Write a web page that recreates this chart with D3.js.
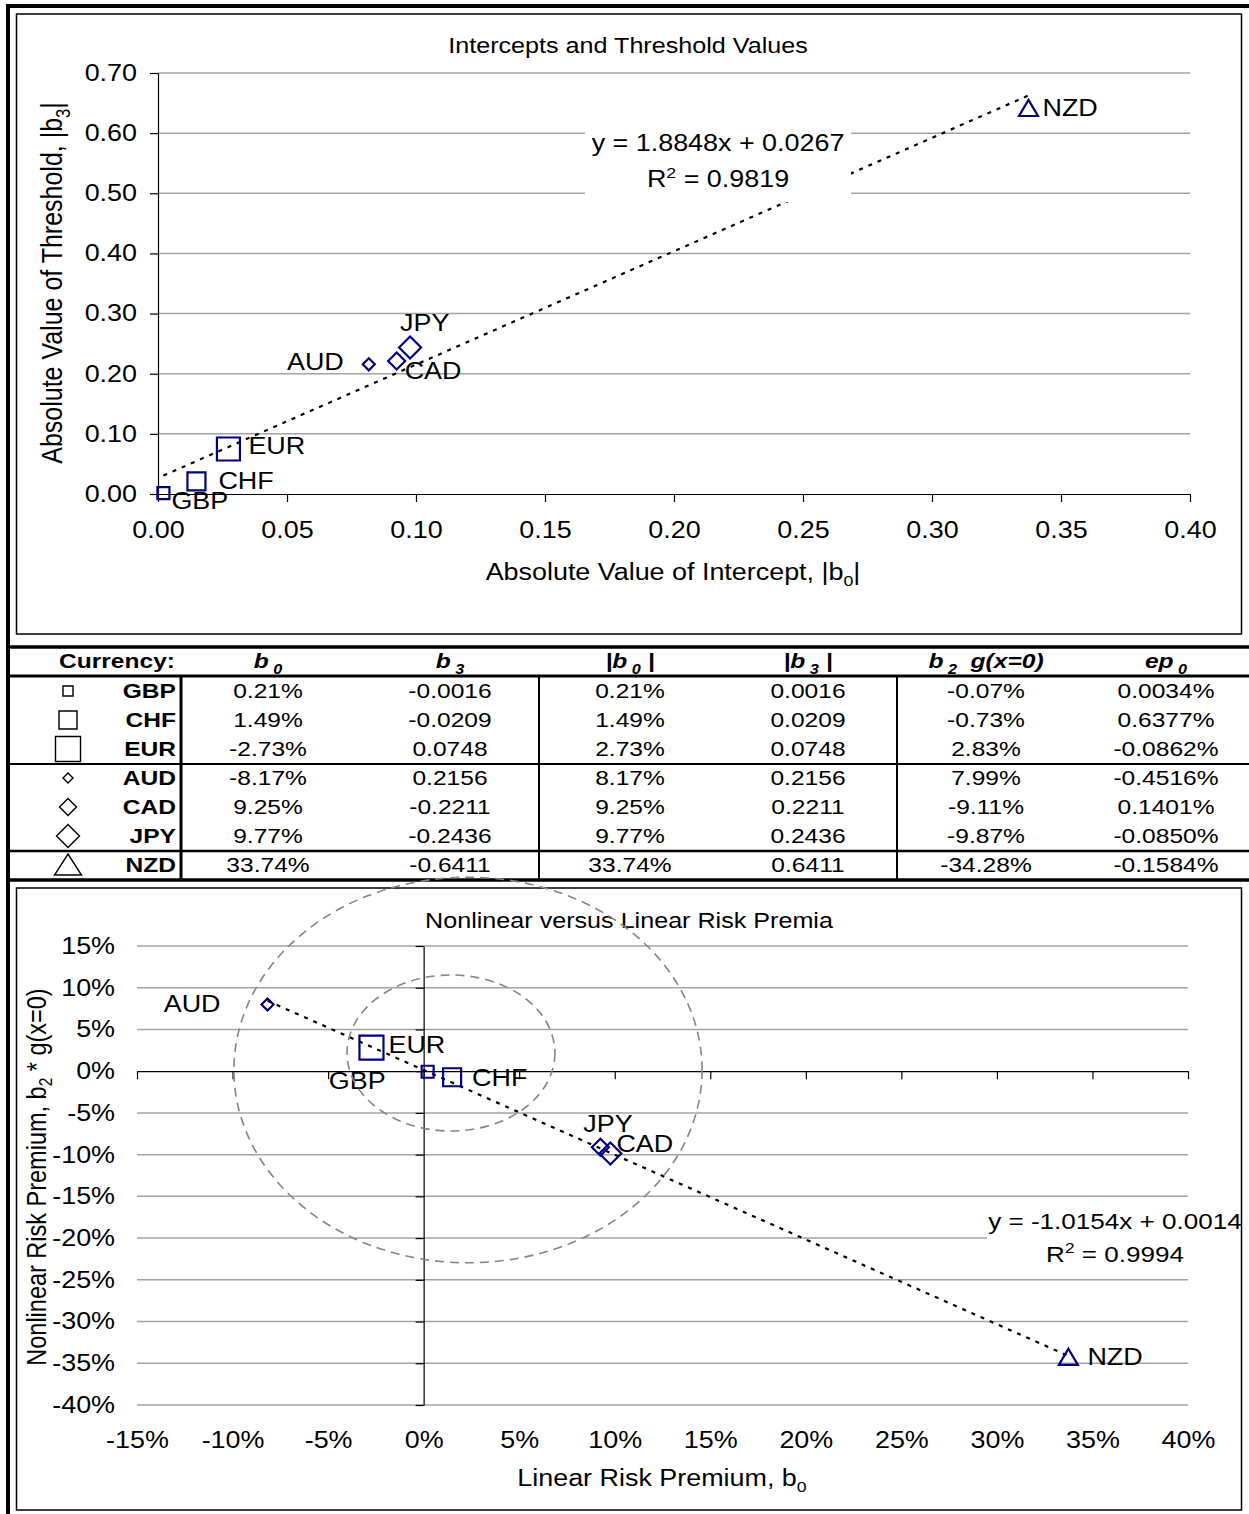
<!DOCTYPE html>
<html>
<head>
<meta charset="utf-8">
<script src="https://cdn.jsdelivr.net/npm/d3@7"></script>
<style>
  body { margin: 0; background: #fff; }
  svg { display: block; font-family: "Liberation Sans", Arial, sans-serif; }
  text { white-space: pre; }
</style>
</head>
<body>
<script>
const width = 1249;
const height = 1514;
const SX = 1.17; // the original is a bit stretched horizontally

const currencies = ["GBP", "CHF", "EUR", "AUD", "CAD", "JPY", "NZD"];
const b0 = [0.0021, 0.0149, -0.0273, -0.0817, 0.0925, 0.0977, 0.3374];
const b3 = [-0.0016, -0.0209, 0.0748, 0.2156, -0.2211, -0.2436, -0.6411];
const absB0 = [0.0021, 0.0149, 0.0273, 0.0817, 0.0925, 0.0977, 0.3374];
const absB3 = [0.0016, 0.0209, 0.0748, 0.2156, 0.2211, 0.2436, 0.6411];
const b2g = [-0.0007, -0.0073, 0.0283, 0.0799, -0.0911, -0.0987, -0.3428];
const ep0 = [0.000034, 0.006377, -0.000862, -0.004516, 0.001401, -0.000850, -0.001584];

// trendlines as given by the equation labels
const trendTop = {slope: 1.8848, intercept: 0.0267, r2: "0.9819"};
const trendBottom = {slope: -1.0154, intercept: 0.0014, r2: "0.9994"};

// tick values
const xTicksTop = [0, 0.05, 0.10, 0.15, 0.20, 0.25, 0.30, 0.35, 0.40];
const yTicksTop = [0, 0.10, 0.20, 0.30, 0.40, 0.50, 0.60, 0.70];
const xTicksBottom = [-0.15, -0.10, -0.05, 0, 0.05, 0.10, 0.15, 0.20, 0.25, 0.30, 0.35, 0.40];
const yTicksBottom = [-0.40, -0.35, -0.30, -0.25, -0.20, -0.15, -0.10, -0.05, 0, 0.05, 0.10, 0.15];

// dashed ellipses drawn over the lower chart (data units)
const ellipses = [
  {cx: 0.0232, cy: 0.0014, rx: 0.1225, ry: 0.231},
  {cx: 0.0143, cy: 0.0218, rx: 0.0544, ry: 0.0935}
];

// marker look per currency
const shapes = {GBP: "square", CHF: "square", EUR: "square", AUD: "diamond", CAD: "diamond", JPY: "diamond", NZD: "triangle"};
const markerSize = {GBP: 12, CHF: 18, EUR: 23, AUD: 12, CAD: 17, JPY: 22, NZD: 19};
const iconSize = {GBP: 10, CHF: 18, EUR: 25, AUD: 10, CAD: 17, JPY: 23, NZD: 27};

// label placement (pixels from marker)
const labelTop = {
  GBP: {dx: 8, dy: 8, a: "start"}, CHF: {dx: 22, dy: 0, a: "start"}, EUR: {dx: 20, dy: -3, a: "start"},
  AUD: {dx: -25, dy: -2, a: "end"}, CAD: {dx: 8, dy: 10, a: "start"}, JPY: {dx: -10, dy: -25, a: "start"},
  NZD: {dx: 14, dy: 0, a: "start"}
};
const labelBottom = {
  GBP: {dx: -42, dy: 9, a: "end"}, CHF: {dx: 20, dy: 1, a: "start"}, EUR: {dx: 17, dy: -3, a: "start"},
  AUD: {dx: -47, dy: -1, a: "end"}, CAD: {dx: 16, dy: -3, a: "start"}, JPY: {dx: -27, dy: -30, a: "start"},
  NZD: {dx: 19, dy: 0, a: "start"}
};

const navy = "#000080";
const gridColor = "#a3a3a3";

const svg = d3.select("body").append("svg")
  .attr("width", width)
  .attr("height", height);

function addText(parent, x, y, parts, o = {}) {
  const size = o.size || 23;
  const tf = o.rotate
    ? `translate(${x},${y}) rotate(-90) scale(1,${SX})`
    : `translate(${x},${y}) scale(${SX},1)`;
  const t = parent.append("text")
    .attr("transform", tf)
    .attr("font-size", size)
    .attr("text-anchor", o.anchor || "middle")
    .attr("font-weight", o.bold ? "bold" : null)
    .attr("font-style", o.italic ? "italic" : null)
    .attr("fill", "#000");
  if (typeof parts === "string") parts = [parts];
  // vertical centring: the first tspan carries the 0.35em shift
  let shift = -size * 0.35;
  parts.forEach(p => {
    if (typeof p === "string") p = {t: p};
    const target = p.sub ? size * 0.25 : p.sup ? -size * 0.4 : 0;
    t.append("tspan")
      .attr("dy", target - shift)
      .attr("font-size", (p.sub || p.sup) ? size * 0.66 : null)
      .text(p.t);
    shift = target;
  });
  return t;
}

function markerPath(shape, s) {
  const h = s / 2;
  if (shape === "square") return `M${-h},${-h}H${h}V${h}H${-h}Z`;
  if (shape === "diamond") return `M0,${-h}L${h},0L0,${h}L${-h},0Z`;
  return `M0,${-h * 0.9}L${h},${h * 0.8}L${-h},${h * 0.8}Z`;
}

function styleAxis(g) {
  g.attr("font-size", 23).attr("font-family", null);
  g.selectAll("line").attr("stroke", "#000").attr("stroke-width", 1.2);
  g.select(".domain").attr("stroke", "#000").attr("stroke-width", 1.2);
}

// ---------- outer frame ----------
svg.append("line").attr("x1", 8).attr("x2", 8).attr("y1", 4).attr("y2", height)
  .attr("stroke", "#000").attr("stroke-width", 4);
svg.append("line").attr("x1", 6).attr("x2", width).attr("y1", 6).attr("y2", 6)
  .attr("stroke", "#000").attr("stroke-width", 4);

// ---------- top chart ----------
const g1 = svg.append("g");
g1.append("rect").attr("x", 16.5).attr("y", 14).attr("width", 1225).attr("height", 620)
  .attr("fill", "#fff").attr("stroke", "#000").attr("stroke-width", 1.5);

const x1 = d3.scaleLinear().domain([0, 0.4]).range([158, 1190]);
const y1 = d3.scaleLinear().domain([0, 0.7]).range([494, 73]);

g1.append("g").selectAll("line")
  .data(yTicksTop.filter(d => d > 0))
  .join("line")
  .attr("x1", x1(0)).attr("x2", x1(0.4))
  .attr("y1", d => y1(d)).attr("y2", d => y1(d))
  .attr("stroke", gridColor).attr("stroke-width", 1.5);

const yAx1 = g1.append("g")
  .attr("transform", `translate(${x1(0)},0)`)
  .call(d3.axisLeft(y1).tickValues(yTicksTop).tickFormat(d3.format(".2f")).tickSize(8).tickSizeOuter(0));
styleAxis(yAx1);
yAx1.selectAll(".tick text").attr("x", -21 / SX).attr("transform", `scale(${SX},1)`);

const xAx1 = g1.append("g")
  .attr("transform", `translate(0,${y1(0)})`)
  .call(d3.axisBottom(x1).tickValues(xTicksTop).tickFormat(d3.format(".2f")).tickSize(8).tickSizeOuter(0));
styleAxis(xAx1);
xAx1.selectAll(".tick text").attr("y", 36).attr("dy", "0.35em").attr("transform", `scale(${SX},1)`);

// trendline
const xr1 = d3.extent(absB0);
g1.append("path")
  .attr("d", d3.line()(xr1.map(v => [x1(v), y1(trendTop.slope * v + trendTop.intercept)])))
  .attr("fill", "none").attr("stroke", "#000").attr("stroke-width", 2.2)
  .attr("stroke-dasharray", "4,6");

// equation box
g1.append("rect").attr("x", 585).attr("y", 115).attr("width", 266).attr("height", 87).attr("fill", "#fff");
addText(g1, 718, 143, `y = ${trendTop.slope}x + ${trendTop.intercept}`);
addText(g1, 718, 179, ["R", {t: "2", sup: true}, ` = ${trendTop.r2}`]);

// markers and labels
currencies.forEach((c, i) => {
  const px = x1(absB0[i]), py = y1(absB3[i]);
  g1.append("path")
    .attr("transform", `translate(${px},${py})`)
    .attr("d", markerPath(shapes[c], markerSize[c]))
    .attr("fill", "none").attr("stroke", navy).attr("stroke-width", 2.2);
  const l = labelTop[c];
  addText(g1, px + l.dx, py + l.dy, c, {anchor: l.a});
});

addText(g1, 628, 45, "Intercepts and Threshold Values", {size: 21.5});
addText(g1, 673, 572, ["Absolute Value of Intercept, |b", {t: "0", sub: true}, "|"]);
addText(g1, 52, 283, ["Absolute Value of Threshold, |b", {t: "3", sub: true}, "|"], {rotate: true, size: 25});

// ---------- table ----------
const tb = svg.append("g");
const rowY = currencies.map((c, i) => 691 + i * 29);
const colX = [268, 450, 630, 808, 986, 1166];
const pct2 = v => (v * 100).toFixed(2) + "%";
const pct4 = v => (v * 100).toFixed(4) + "%";
const dec4 = v => v.toFixed(4);
const columns = [
  {vals: b0, f: pct2}, {vals: b3, f: dec4}, {vals: absB0, f: pct2},
  {vals: absB3, f: dec4}, {vals: b2g, f: pct2}, {vals: ep0, f: pct4}
];
const headers = [
  ["b", {t: " 0", sub: true}],
  ["b", {t: " 3", sub: true}],
  ["|b", {t: " 0", sub: true}, " |"],
  ["|b", {t: " 3", sub: true}, " |"],
  ["b", {t: " 2", sub: true}, "  g(x=0)"],
  ["ep", {t: " 0", sub: true}]
];

addText(tb, 117, 661, "Currency:", {size: 21, bold: true});
headers.forEach((h, j) => addText(tb, colX[j], 661, h, {size: 21, bold: true, italic: true}));

currencies.forEach((c, i) => {
  tb.append("path")
    .attr("transform", `translate(68,${rowY[i]})`)
    .attr("d", shapes[c] === "triangle"
      ? `M0,-11L${iconSize[c] / 2},10L${-iconSize[c] / 2},10Z`
      : markerPath(shapes[c], iconSize[c]))
    .attr("fill", "none").attr("stroke", "#000").attr("stroke-width", 1.4);
  addText(tb, 176, rowY[i], c, {size: 21, bold: true, anchor: "end"});
  columns.forEach((col, j) => addText(tb, colX[j], rowY[i], col.f(col.vals[i]), {size: 21}));
});

const hLines = [{y: 647, w: 3.5}, {y: 676, w: 3}, {y: 764, w: 2.2}, {y: 851, w: 2.5}, {y: 880, w: 3.5}];
tb.selectAll(".hl").data(hLines).join("line")
  .attr("x1", 6).attr("x2", width).attr("y1", d => d.y).attr("y2", d => d.y)
  .attr("stroke", "#000").attr("stroke-width", d => d.w);
const vLines = [{x: 181, w: 3}, {x: 539, w: 2}, {x: 897, w: 2}];
tb.selectAll(".vl").data(vLines).join("line")
  .attr("x1", d => d.x).attr("x2", d => d.x).attr("y1", 676).attr("y2", 880)
  .attr("stroke", "#000").attr("stroke-width", d => d.w);

// ---------- bottom chart ----------
const g2 = svg.append("g");
g2.append("rect").attr("x", 16.5).attr("y", 888).attr("width", 1225).attr("height", 622)
  .attr("fill", "#fff").attr("stroke", "#000").attr("stroke-width", 1.5);

const x2 = d3.scaleLinear().domain([-0.15, 0.40]).range([137, 1188]);
const y2 = d3.scaleLinear().domain([-0.40, 0.15]).range([1405, 946]);
const pct0 = v => Math.round(v * 100) + "%";

g2.append("g").selectAll("line")
  .data(yTicksBottom.filter(d => d !== 0))
  .join("line")
  .attr("x1", x2(-0.15)).attr("x2", x2(0.40))
  .attr("y1", d => y2(d)).attr("y2", d => y2(d))
  .attr("stroke", gridColor).attr("stroke-width", 1.5);

// axis lines through zero
const yAx2 = g2.append("g")
  .attr("transform", `translate(${x2(0)},0)`)
  .call(d3.axisLeft(y2).tickValues(yTicksBottom).tickFormat("").tickSize(8).tickSizeOuter(0));
styleAxis(yAx2);
const xAx2 = g2.append("g")
  .attr("transform", `translate(0,${y2(0)})`)
  .call(d3.axisBottom(x2).tickValues(xTicksBottom).tickFormat("").tickSize(8).tickSizeOuter(0));
styleAxis(xAx2);

// tick labels at the low side
const yLab2 = g2.append("g")
  .attr("transform", `translate(${x2(-0.15)},0)`)
  .call(d3.axisLeft(y2).tickValues(yTicksBottom).tickFormat(pct0).tickSize(0));
styleAxis(yLab2);
yLab2.select(".domain").remove();
yLab2.selectAll(".tick text").attr("x", -22 / SX).attr("transform", `scale(${SX},1)`);

const xLab2 = g2.append("g")
  .attr("transform", `translate(0,${y2(-0.40)})`)
  .call(d3.axisBottom(x2).tickValues(xTicksBottom).tickFormat(pct0).tickSize(0));
styleAxis(xLab2);
xLab2.select(".domain").remove();
xLab2.selectAll(".tick text").attr("y", 35).attr("dy", "0.35em").attr("transform", `scale(${SX},1)`);

// trendline
const xr2 = d3.extent(b0);
g2.append("path")
  .attr("d", d3.line()(xr2.map(v => [x2(v), y2(trendBottom.slope * v + trendBottom.intercept)])))
  .attr("fill", "none").attr("stroke", "#000").attr("stroke-width", 2.2)
  .attr("stroke-dasharray", "4,6");

// equation box
g2.append("rect").attr("x", 987).attr("y", 1204).attr("width", 253).attr("height", 67).attr("fill", "#fff");
addText(g2, 1115, 1221, `y = ${trendBottom.slope}x + ${trendBottom.intercept}`, {size: 22.3});
addText(g2, 1115, 1254, ["R", {t: "2", sup: true}, ` = ${trendBottom.r2}`], {size: 22.3});

currencies.forEach((c, i) => {
  const px = x2(b0[i]), py = y2(b2g[i]);
  g2.append("path")
    .attr("transform", `translate(${px},${py})`)
    .attr("d", markerPath(shapes[c], c === "EUR" ? 24 : markerSize[c]))
    .attr("fill", "none").attr("stroke", navy).attr("stroke-width", 2.2);
  const l = labelBottom[c];
  addText(g2, px + l.dx, py + l.dy, c, {anchor: l.a});
});

addText(g2, 629, 920, "Nonlinear versus Linear Risk Premia", {size: 21.5});
addText(g2, 662, 1478, ["Linear Risk Premium, b", {t: "0", sub: true}]);
addText(g2, 36, 1177, ["Nonlinear Risk Premium, b", {t: "2", sub: true}, " * g(x=0)"], {rotate: true, size: 23.5});

// dashed ellipses
svg.append("g").selectAll("ellipse")
  .data(ellipses)
  .join("ellipse")
  .attr("cx", d => x2(d.cx)).attr("cy", d => y2(d.cy))
  .attr("rx", d => x2(d.rx) - x2(0)).attr("ry", d => y2(0) - y2(d.ry))
  .attr("fill", "none").attr("stroke", "#858585").attr("stroke-width", 1.6)
  .attr("stroke-dasharray", "9,6");
</script>
</body>
</html>
